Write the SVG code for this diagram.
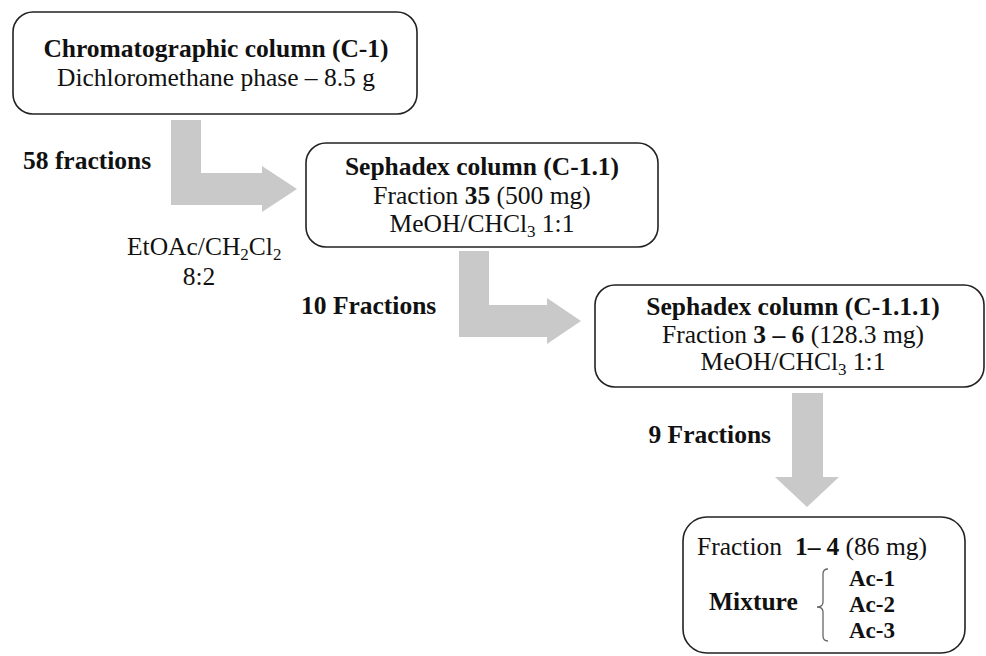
<svg xmlns="http://www.w3.org/2000/svg" width="986" height="656" viewBox="0 0 986 656" font-family="'Liberation Serif', 'DejaVu Serif', serif">
<style>
text{font-family:'Liberation Serif','DejaVu Serif',serif;font-size:25.5px;fill:#111}
.b{font-weight:bold}
.c{text-anchor:middle}
.box{fill:#fff;stroke:#222;stroke-width:1.6}
.arr{fill:#c9c9c9;stroke:none}
.sub{font-size:17px}
.ac{font-size:23px;font-weight:bold}
</style>
<rect width="986" height="656" fill="#fff"/>
<g id="connectors">
<polygon class="arr" points="171,120 201,120 201,173 262,173 262,166 297,189 262,212 262,205 171,205"/>
<polygon class="arr" points="459,251 489,251 489,305 547,305 547,298 581,321 547,344 547,337 459,337"/>
<polygon class="arr" points="792,393 823,393 823,477 839,477 807,507 775,477 792,477"/>
</g>
<g id="labels">
<text class="b" x="23" y="169">58 fractions</text>
<text x="127" y="255">EtOAc/CH<tspan class="sub" dy="5">2</tspan><tspan dy="-5">Cl</tspan><tspan class="sub" dy="5">2</tspan></text>
<text class="c" x="199" y="285">8:2</text>
<text class="b" x="301" y="314">10 Fractions</text>
<text class="b" x="771" y="443" text-anchor="end">9 Fractions</text>
</g>
<g id="c1">
<rect class="box" x="13" y="12" width="404" height="102" rx="20"/>
<text class="b c" x="216" y="57">Chromatographic column (C-1)</text>
<text class="c" x="216" y="86">Dichloromethane phase – 8.5 g</text>
</g>
<g id="c1_1">
<rect class="box" x="306" y="143" width="352" height="104" rx="20"/>
<text class="b c" x="482" y="175">Sephadex column (C-1.1)</text>
<text class="c" x="482" y="204">Fraction <tspan class="b">35</tspan> (500 mg)</text>
<text class="c" x="482" y="232">MeOH/CHCl<tspan class="sub" dy="5">3</tspan><tspan dy="-5"> 1:1</tspan></text>
</g>
<g id="c1_1_1">
<rect class="box" x="595" y="285" width="389" height="102" rx="20"/>
<text class="b c" x="793" y="315">Sephadex column (C-1.1.1)</text>
<text class="c" x="793" y="343">Fraction <tspan class="b">3 – 6</tspan> (128.3 mg)</text>
<text class="c" x="793" y="370">MeOH/CHCl<tspan class="sub" dy="5">3</tspan><tspan dy="-5"> 1:1</tspan></text>
</g>
<g id="result">
<rect class="box" x="683" y="517" width="282" height="136" rx="24"/>
<text x="697" y="555">Fraction<tspan class="b" dx="13">1–</tspan><tspan class="b" dx="6">4</tspan> (86 mg)</text>
<text class="b" x="709" y="610">Mixture</text>
<path d="M828,569 Q823,569 823,574 L823,602 Q823,607 817,607 Q823,607 823,612 L823,636 Q823,641 828,641" fill="none" stroke="#666" stroke-width="1.3"/>
<text class="ac" x="849" y="586">Ac-1</text>
<text class="ac" x="849" y="612">Ac-2</text>
<text class="ac" x="849" y="638">Ac-3</text>
</g>
</svg>
